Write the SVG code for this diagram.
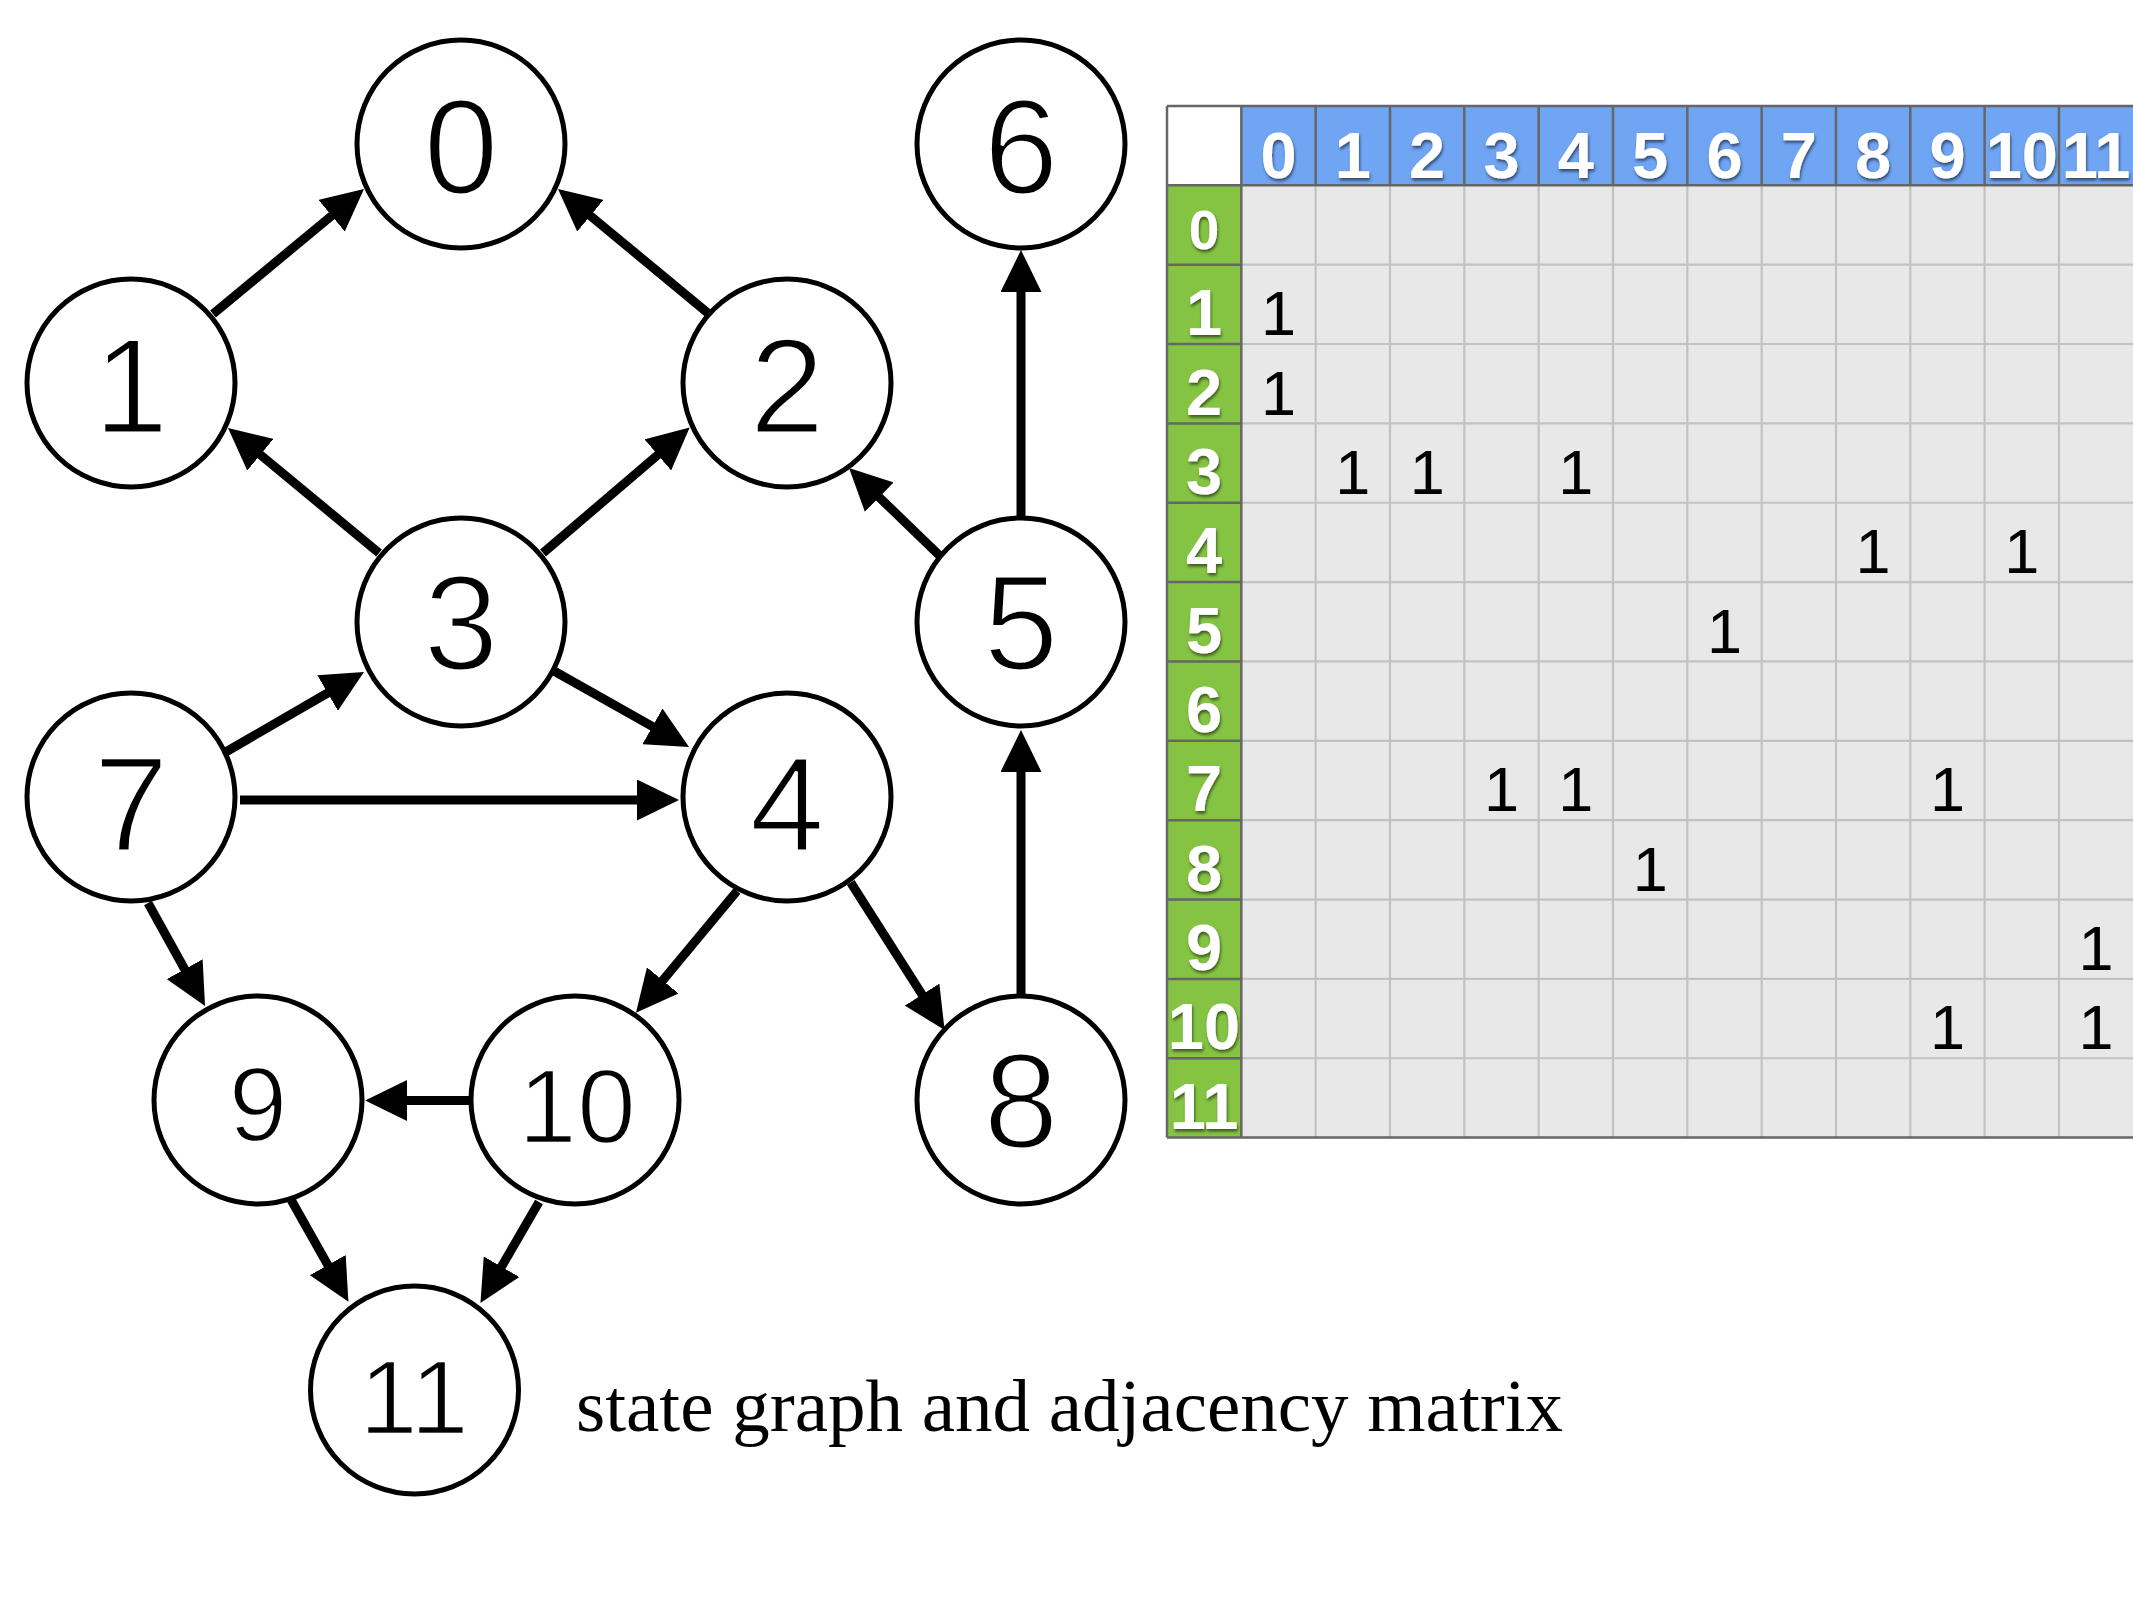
<svg xmlns="http://www.w3.org/2000/svg" width="2133" height="1600" viewBox="0 0 2133 1600">
<style>
.node circle{fill:#fff;stroke:#000;stroke-width:5}
.node text{font-family:"Liberation Sans",Arial,Helvetica,sans-serif;font-size:135px;text-anchor:middle;fill:#000;stroke:#fff;stroke-width:3}
.node text.sm{font-size:106px;stroke-width:2.4}
.edge{fill:none;stroke:#000;stroke-width:9;marker-end:url(#ah)}
.hd{font-family:"Liberation Sans",Arial,Helvetica,sans-serif;font-weight:bold;font-size:65px;fill:#fff;text-anchor:middle;filter:url(#sh)}
.cell{font-family:"Liberation Sans",Arial,Helvetica,sans-serif;font-size:63px;fill:#000;text-anchor:middle}
.light{stroke:#c2c2c2;stroke-width:2.2;fill:none}
.dark{stroke:#666;stroke-width:2.5;fill:none}
.cap{font-family:"Liberation Serif","Times New Roman",serif;font-size:75px;fill:#000}
</style>
<defs>
<marker id="ah" markerUnits="userSpaceOnUse" viewBox="0 0 42 41" markerWidth="42" markerHeight="41" refX="12" refY="20.5" orient="auto">
<path d="M0,0 L42,20.5 L0,41 z" fill="#000"/>
</marker>
<filter id="sh" x="-30%" y="-30%" width="160%" height="160%">
<feDropShadow dx="1" dy="2.5" stdDeviation="1.5" flood-color="#000" flood-opacity="0.55"/>
</filter>
</defs>
<rect width="2133" height="1600" fill="#fff"/>

<g id="edges">
<path class="edge" d="M213,314 L340.9,208.1"/>
<path class="edge" d="M709,314 L581.1,208.1"/>
<path class="edge" d="M379,553 L251.1,447.1"/>
<path class="edge" d="M543,553 L666.9,447.1"/>
<path class="edge" d="M941,557 L870.6,488.9"/>
<path class="edge" d="M1021,516 L1021,280"/>
<path class="edge" d="M1021,994 L1021,760"/>
<path class="edge" d="M224,753 L338,687"/>
<path class="edge" d="M554,671 L662.9,732.3"/>
<path class="edge" d="M240,800 L649,800"/>
<path class="edge" d="M148,903 L190.5,979.7"/>
<path class="edge" d="M737,891 L655.1,989.7"/>
<path class="edge" d="M850.7,882.5 L928.5,1004.7"/>
<path class="edge" d="M469.4,1100.5 L395.2,1100.5"/>
<path class="edge" d="M291.2,1200 L333.7,1275.5"/>
<path class="edge" d="M539,1202 L495.5,1277.1"/>
</g>

<g id="node-0" class="node"><circle cx="461" cy="144" r="104"/><text x="461" y="193.5">0</text></g>
<g id="node-6" class="node"><circle cx="1021" cy="144" r="104"/><text x="1021" y="193.5">6</text></g>
<g id="node-1" class="node"><circle cx="131" cy="383" r="104"/><text x="131" y="433">1</text></g>
<g id="node-2" class="node"><circle cx="787" cy="383" r="104"/><text x="787" y="433">2</text></g>
<g id="node-3" class="node"><circle cx="461" cy="622" r="104"/><text x="461" y="670">3</text></g>
<g id="node-5" class="node"><circle cx="1021" cy="622" r="104"/><text x="1021" y="670">5</text></g>
<g id="node-7" class="node"><circle cx="131" cy="797" r="104"/><text x="131" y="851">7</text></g>
<g id="node-4" class="node"><circle cx="787" cy="797" r="104"/><text x="787" y="851">4</text></g>
<g id="node-9" class="node"><circle cx="258" cy="1100" r="104"/><text class="sm" x="258" y="1141">9</text></g>
<g id="node-10" class="node"><circle cx="575" cy="1100" r="104"/><text class="sm" x="577" y="1142.5">10</text></g>
<g id="node-8" class="node"><circle cx="1021" cy="1100" r="104"/><text x="1021" y="1148">8</text></g>
<g id="node-11" class="node"><circle cx="414.5" cy="1390" r="104"/><text class="sm" x="414" y="1433.5">11</text></g>

<g id="matrix">
<rect x="1167" y="106" width="74.33" height="79.3" fill="#fff"/>
<rect x="1241.33" y="106" width="892" height="79.3" fill="#70a5f4"/>
<rect x="1167" y="185.3" width="74.33" height="952.3" fill="#85c443"/>
<rect x="1241.33" y="185.3" width="892" height="952.3" fill="#e8e8e8"/>
<path class="light" d="M1315.66,185.3V1137.6M1389.99,185.3V1137.6M1464.32,185.3V1137.6M1538.65,185.3V1137.6M1612.98,185.3V1137.6M1687.31,185.3V1137.6M1761.64,185.3V1137.6M1835.97,185.3V1137.6M1910.3,185.3V1137.6M1984.63,185.3V1137.6M2058.96,185.3V1137.6"/>
<path class="light" d="M1241.33,264.66H2133M1241.33,344.02H2133M1241.33,423.38H2133M1241.33,502.74H2133M1241.33,582.1H2133M1241.33,661.46H2133M1241.33,740.82H2133M1241.33,820.18H2133M1241.33,899.54H2133M1241.33,978.9H2133M1241.33,1058.26H2133"/>
<path class="dark" d="M1167,106H2133M1167,185.3H2133M1167,1137.6H2133M1167,106V1137.6M1241.33,106V1137.6M1315.66,106V185.3M1389.99,106V185.3M1464.32,106V185.3M1538.65,106V185.3M1612.98,106V185.3M1687.31,106V185.3M1761.64,106V185.3M1835.97,106V185.3M1910.3,106V185.3M1984.63,106V185.3M2058.96,106V185.3M1167,264.66H1241.33M1167,344.02H1241.33M1167,423.38H1241.33M1167,502.74H1241.33M1167,582.1H1241.33M1167,661.46H1241.33M1167,740.82H1241.33M1167,820.18H1241.33M1167,899.54H1241.33M1167,978.9H1241.33M1167,1058.26H1241.33"/>

<g id="col-headers">
<text class="hd" x="1278.5" y="177.5">0</text>
<text class="hd" x="1352.8" y="177.5">1</text>
<text class="hd" x="1427.2" y="177.5">2</text>
<text class="hd" x="1501.5" y="177.5">3</text>
<text class="hd" x="1575.8" y="177.5">4</text>
<text class="hd" x="1650.2" y="177.5">5</text>
<text class="hd" x="1724.5" y="177.5">6</text>
<text class="hd" x="1798.8" y="177.5">7</text>
<text class="hd" x="1873.1" y="177.5">8</text>
<text class="hd" x="1947.5" y="177.5">9</text>
<text class="hd" x="2021.8" y="177.5">10</text>
<text class="hd" x="2096.1" y="177.5">11</text>
</g>
<g id="row-headers">
<text class="hd" x="1204" y="248.5" style="font-size:55px">0</text>
<text class="hd" x="1204" y="335.2">1</text>
<text class="hd" x="1204" y="414.5">2</text>
<text class="hd" x="1204" y="493.9">3</text>
<text class="hd" x="1204" y="573.2">4</text>
<text class="hd" x="1204" y="652.6">5</text>
<text class="hd" x="1204" y="732">6</text>
<text class="hd" x="1204" y="811.3">7</text>
<text class="hd" x="1204" y="890.7">8</text>
<text class="hd" x="1204" y="970">9</text>
<text class="hd" x="1204" y="1049.4">10</text>
<text class="hd" x="1204" y="1128.8">11</text>
</g>
<g id="cells">
<text class="cell" x="1278.5" y="335.2">1</text>
<text class="cell" x="1278.5" y="414.5">1</text>
<text class="cell" x="1352.8" y="493.9">1</text>
<text class="cell" x="1427.2" y="493.9">1</text>
<text class="cell" x="1575.8" y="493.9">1</text>
<text class="cell" x="1873.1" y="573.2">1</text>
<text class="cell" x="2021.8" y="573.2">1</text>
<text class="cell" x="1724.5" y="652.6">1</text>
<text class="cell" x="1501.5" y="811.3">1</text>
<text class="cell" x="1575.8" y="811.3">1</text>
<text class="cell" x="1947.5" y="811.3">1</text>
<text class="cell" x="1650.2" y="890.7">1</text>
<text class="cell" x="2096.1" y="970">1</text>
<text class="cell" x="1947.5" y="1049.4">1</text>
<text class="cell" x="2096.1" y="1049.4">1</text>
</g>
</g>

<text class="cap" x="576" y="1431">state graph and adjacency matrix</text>
</svg>
